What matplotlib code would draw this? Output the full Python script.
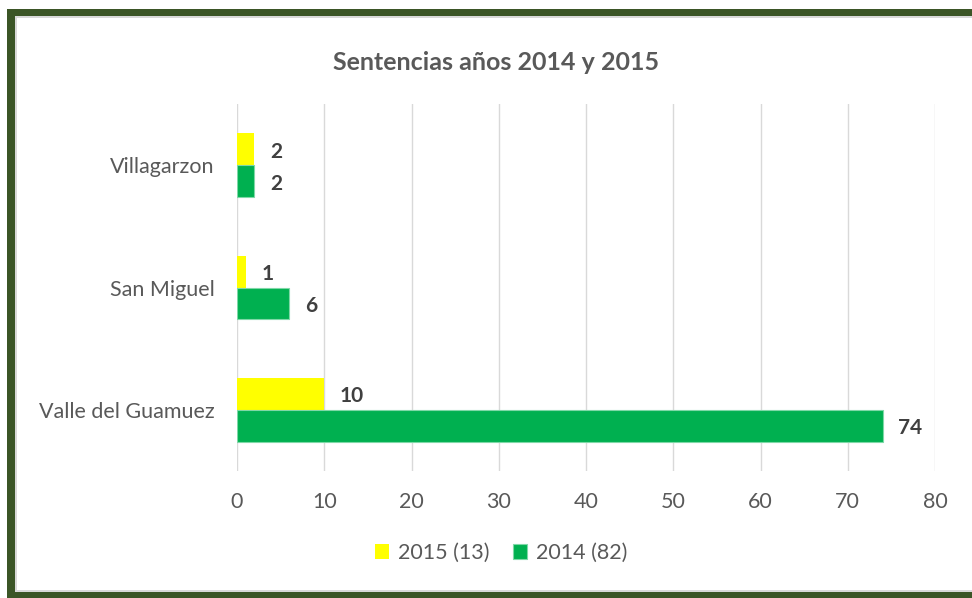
import matplotlib.pyplot as plt
from matplotlib.patches import Rectangle

municipios = ['Valle del Guamuez', 'San Miguel', 'Villagarzon']
sent_2015 = [10, 1, 2]
sent_2014 = [74, 6, 2]
leyenda = ['2015 (13)', '2014 (82)']
x_ticks = [0, 10, 20, 30, 40, 50, 60, 70, 80]

amarillo = '#FFFF00'
verde = '#00B050'
gris = '#595959'

plt.rcParams['font.family'] = ['Lato', 'DejaVu Sans']

W, H = 972, 598
fig = plt.figure(figsize=(W / 100, H / 100), dpi=100)

# marco verde oscuro (en un eje de fondo)
bg = fig.add_axes([0, 0, 1, 1], zorder=-10)
bg.set_xlim(0, W)
bg.set_ylim(H, 0)
bg.axis('off')
bg.add_patch(Rectangle((7, 9), W, H, facecolor='#3B5526', edgecolor='none'))
bg.add_patch(Rectangle((15, 16), W, 576, facecolor='#D9D9D9', edgecolor='none'))
bg.add_patch(Rectangle((17, 18), W, 572, facecolor='white', edgecolor='none'))

ax = fig.add_axes([237 / W, 127 / H, 698 / W, 367 / H])
ax.set_facecolor('none')

h = 0.26
pos = range(len(municipios))
b15 = ax.barh([p + h / 2 for p in pos], sent_2015, height=h, color=amarillo, zorder=3)
b14 = ax.barh([p - h / 2 for p in pos], sent_2014, height=h, color=verde,
              edgecolor='#7FD8A7', linewidth=0.8, zorder=3)

for p, v in zip(pos, sent_2015):
    ax.text(v + 1.8, p + h / 2 - 0.02, str(v), va='center', ha='left', fontsize=15,
            fontweight='bold', color='#404040')
for p, v in zip(pos, sent_2014):
    ax.text(v + 1.8, p - h / 2 - 0.02, str(v), va='center', ha='left', fontsize=15,
            fontweight='bold', color='#404040')

ax.set_xlim(0, 80)
ax.set_ylim(-0.5, 2.5)
ax.set_xticks(x_ticks)
ax.set_yticks(list(pos))
ax.set_yticklabels(municipios)
ax.grid(axis='x', color='#D9D9D9', linewidth=1, zorder=0)
ax.tick_params(axis='both', length=0, labelsize=15.5, colors=gris)
ax.tick_params(axis='x', pad=15)
ax.tick_params(axis='y', pad=16)
for s in ax.spines.values():
    s.set_visible(False)

fig.text(496 / W, 1 - 62 / H, 'Sentencias años 2014 y 2015', ha='center', va='center',
         fontsize=18, fontweight='bold', color=gris)

fig.legend([b15, b14], leyenda, loc='center', bbox_to_anchor=(501 / W, 1 - 553 / H),
           ncol=2, frameon=False, fontsize=15.5, labelcolor=gris, handlelength=0.65,
           handleheight=0.65, columnspacing=1.1, handletextpad=0.4)

fig.savefig('out.png', dpi=100)
